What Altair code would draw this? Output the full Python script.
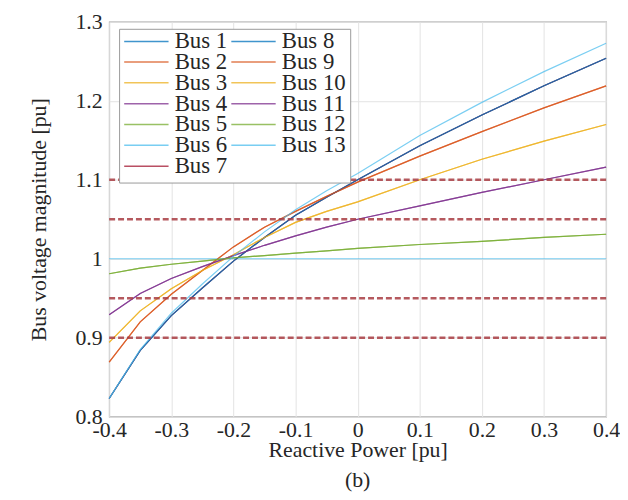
import altair as alt
import pandas as pd

# Reactive power injection [pu]
q = [-0.4, -0.35, -0.3, -0.25, -0.2, -0.15, -0.1, -0.05, 0.0, 0.1, 0.2, 0.3, 0.4]

# Bus voltage magnitudes [pu]
bus_1 = [0.823, 0.884, 0.928, 0.963, 0.997, 1.027, 1.055, 1.078, 1.100, 1.143, 1.182, 1.219, 1.254]
bus_2 = [0.869, 0.920, 0.955, 0.985, 1.015, 1.040, 1.060, 1.079, 1.097, 1.130, 1.161, 1.191, 1.219]
bus_3 = [0.894, 0.934, 0.962, 0.985, 1.005, 1.027, 1.046, 1.060, 1.072, 1.100, 1.126, 1.149, 1.170]
bus_4 = [0.929, 0.956, 0.975, 0.990, 1.004, 1.017, 1.029, 1.040, 1.050, 1.067, 1.084, 1.100, 1.116]
bus_5 = [0.981, 0.988, 0.993, 0.997, 1.001, 1.004, 1.007, 1.010, 1.013, 1.018, 1.022, 1.027, 1.031]
bus_6 = [1.000, 1.000, 1.000, 1.000, 1.000, 1.000, 1.000, 1.000, 1.000, 1.000, 1.000, 1.000, 1.000]
bus_7 = [0.823, 0.884, 0.928, 0.963, 0.997, 1.027, 1.055, 1.078, 1.100, 1.143, 1.182, 1.219, 1.254]
bus_8 = [0.823, 0.884, 0.928, 0.963, 0.997, 1.027, 1.055, 1.078, 1.100, 1.143, 1.182, 1.219, 1.254]
bus_9 = [0.869, 0.920, 0.955, 0.985, 1.015, 1.040, 1.060, 1.079, 1.097, 1.130, 1.161, 1.191, 1.219]
bus_10 = [0.894, 0.934, 0.962, 0.985, 1.005, 1.027, 1.046, 1.060, 1.072, 1.100, 1.126, 1.149, 1.170]
bus_11 = [0.929, 0.956, 0.975, 0.990, 1.004, 1.017, 1.029, 1.040, 1.050, 1.067, 1.084, 1.100, 1.116]
bus_12 = [0.981, 0.988, 0.993, 0.997, 1.001, 1.004, 1.007, 1.010, 1.013, 1.018, 1.022, 1.027, 1.031]
bus_13 = [0.823, 0.885, 0.931, 0.968, 1.003, 1.034, 1.062, 1.086, 1.108, 1.156, 1.198, 1.237, 1.273]

bus_names = [f"Bus {i}" for i in range(1, 14)]
bus_values = [bus_1, bus_2, bus_3, bus_4, bus_5, bus_6, bus_7,
              bus_8, bus_9, bus_10, bus_11, bus_12, bus_13]

# voltage limits (dashed)
limits = [0.9, 0.95, 1.05, 1.1]

x_ticks = [-0.4, -0.3, -0.2, -0.1, 0.0, 0.1, 0.2, 0.3, 0.4]
y_ticks = [0.8, 0.85, 0.9, 0.95, 1.0, 1.05, 1.1, 1.15, 1.2, 1.25, 1.3]

matlab = ["#0072BD", "#D95319", "#EDB120", "#7E2F8E", "#77AC30", "#4DBEEE", "#A2142F"]
bus_colors = [matlab[i % 7] for i in range(len(bus_names))]

rows = []
for name, vals in zip(bus_names, bus_values):
    for xv, yv in zip(q, vals):
        rows.append({"bus": name, "q": xv, "v": yv})
df = pd.DataFrame(rows)
lim_df = pd.DataFrame({"v": limits})

FONT = "Liberation Serif"
YTITLE = "Bus voltage magnitude [pu]"

x_enc = alt.X(
    "q:Q",
    scale=alt.Scale(domain=[-0.4, 0.4], nice=False, zero=False),
    axis=alt.Axis(values=x_ticks, labelExpr="toString(datum.value)",
                  title="Reactive Power [pu]", labelPadding=3,
                  titleBaseline="alphabetic", titleY=40, labelFlush=False),
)
y_enc = alt.Y(
    "v:Q",
    scale=alt.Scale(domain=[0.8, 1.3], nice=False, zero=False),
    axis=alt.Axis(values=y_ticks, labelExpr="toString(datum.value)",
                  title=YTITLE, labelPadding=7, titlePadding=25, labelFlush=False),
)

lines = alt.Chart(df).mark_line(strokeWidth=1.2, opacity=0.75).encode(
    x=x_enc,
    y=y_enc,
    color=alt.Color(
        "bus:N",
        sort=bus_names,
        scale=alt.Scale(domain=bus_names, range=bus_colors),
        legend=alt.Legend(
            title=None, orient="none", legendX=10, legendY=7, columns=2,
            symbolType="stroke", symbolSize=2000, symbolStrokeWidth=1.5,
            clipHeight=17, labelFont=FONT, labelFontSize=23,
            labelColor="#262626", fillColor="white", strokeColor="#9a9a9a",
            padding=4, rowPadding=-20, columnPadding=2, labelOffset=5,
        ),
    ),
    order=alt.Order("q:Q"),
)

rules = alt.Chart(lim_df).mark_rule(
    color="#A83C42", strokeDash=[6, 3], strokeWidth=2.6, opacity=0.85
).encode(y=alt.Y("v:Q", title=YTITLE))

chart = (
    alt.layer(lines, rules)
    .properties(
        width=501, height=398,
        autosize=alt.AutoSizeParams(type="none"),
        padding={"left": 102, "top": 12, "right": 14, "bottom": 74},
        title=alt.TitleParams("(b)", orient="bottom", font=FONT, fontSize=22,
                              fontWeight="normal", color="#262626", offset=10),
    )
    .configure_axis(
        labelFont=FONT, titleFont=FONT, labelFontSize=22, titleFontSize=22,
        labelColor="#262626", titleColor="#262626", titleFontWeight="normal",
        gridColor="#e3e3e3", gridWidth=1, domain=False, ticks=False,
    )
    .configure_view(stroke="#999999", strokeWidth=1.2)
)

chart.save("out.html", embed_options={"renderer": "svg", "actions": False})
